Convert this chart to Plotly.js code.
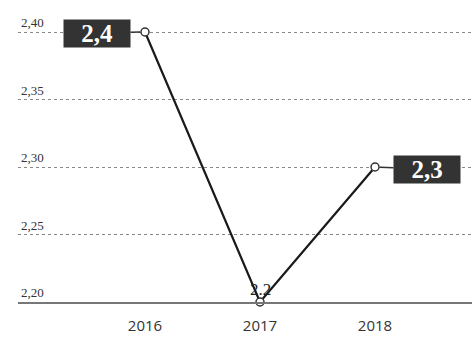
<!DOCTYPE html>
<html><head><meta charset="utf-8">
<script src="https://cdn.plot.ly/plotly-3.0.1.min.js"></script>
<style>html,body{margin:0;padding:0;background:#fff}#c{width:472px;height:338px}</style>
</head><body><div id="c"></div>
<script>
const years = [2016, 2017, 2018];
const values = [2.4, 2.2, 2.3];
const labels = ["2,4", "2.2", "2,3"];
const yTicks = [2.20, 2.25, 2.30, 2.35, 2.40];
const yTickText = ["2,20", "2,25", "2,30", "2,35", "2,40"];

const trace = {
  x: years, y: values, type: 'scatter', mode: 'lines+markers',
  line: {color: '#1a1a1a', width: 2.2},
  marker: {size: 8, color: '#fff', line: {color: '#333', width: 1.5}},
  cliponaxis: false, hoverinfo: 'skip'
};

const boxStyle = [
  {ax: -48, ay: 1, box: true},
  {ax: 0, ay: 0, box: false},
  {ax: 52, ay: 2, box: true}
];
const annotations = years.map((yr, i) => {
  const s = boxStyle[i];
  if (s.box) {
    return {x: yr, y: values[i], xref: 'x', yref: 'y', text: labels[i],
      showarrow: true, ax: s.ax, ay: s.ay, arrowhead: 0, arrowwidth: 1.5, arrowcolor: '#333',
      standoff: 5, bgcolor: '#333', borderpad: 1, width: 64, height: 25,
      font: {family: 'Liberation Serif, serif', size: 25, color: '#fff', weight: 'bold'}};
  }
  return {x: yr, y: values[i], xref: 'x', yref: 'y', text: labels[i], showarrow: false,
    yshift: 13, font: {family: 'Liberation Serif, serif', size: 17, color: '#222'}};
});

const layout = {
  width: 472, height: 338,
  margin: {l: 18, r: 0, t: 10, b: 36},
  paper_bgcolor: '#fff', plot_bgcolor: '#fff',
  showlegend: false,
  xaxis: {range: [2014.896, 2018.843], tickvals: years, ticktext: years.map(String),
    showgrid: false, zeroline: false, showline: true, linecolor: '#777', linewidth: 1.5,
    ticks: '', ticklabelstandoff: 9,
    tickfont: {family: 'Open Sans, sans-serif', size: 15, color: '#333'}},
  yaxis: {range: [2.2, 2.4163], tickvals: yTicks, ticktext: yTickText,
    ticklabelposition: 'inside top', showgrid: true, gridcolor: '#888', griddash: 'dot', gridwidth: 1,
    zeroline: false, showline: false, ticks: '',
    tickfont: {family: 'Liberation Serif, serif', size: 13, color: '#333'}},
  annotations: annotations
};
Plotly.newPlot('c', [trace], layout, {staticPlot: true, displayModeBar: false});
</script></body></html>
